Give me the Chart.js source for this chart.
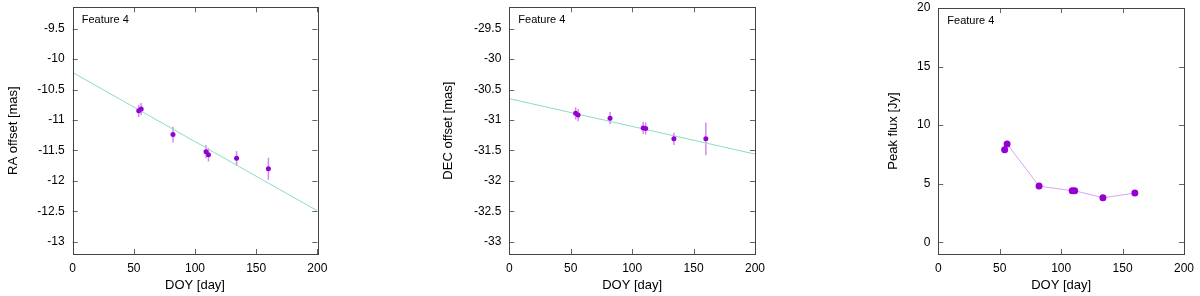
<!DOCTYPE html>
<html>
<head>
<meta charset="utf-8">
<script src="https://cdn.jsdelivr.net/npm/chart.js@4.4.1/dist/chart.umd.min.js"></script>
<style>
body { margin: 0; background: #fff; width: 1200px; height: 296px; position: relative; overflow: hidden; }
canvas { position: absolute; top: 0; }
</style>
</head>
<body>
<canvas id="c1" width="330" height="296" style="left:0px"></canvas>
<canvas id="c2" width="335" height="296" style="left:430px"></canvas>
<canvas id="c3" width="340" height="296" style="left:860px"></canvas>
<script>
// observation days
var doy = [54, 56, 82, 109, 111, 134, 160];

// RA offsets and errors
var ra = [-10.85, -10.82, -11.24, -11.52, -11.57, -11.63, -11.80];
var raErr = [0.1, 0.1, 0.13, 0.11, 0.11, 0.12, 0.18];

// DEC offsets and errors
var dec = [-30.89, -30.92, -30.97, -31.13, -31.14, -31.31, -31.31];
var decErr = [0.1, 0.1, 0.1, 0.1, 0.1, 0.1, 0.27];

// peak flux
var flux = [7.9, 8.4, 4.8, 4.4, 4.4, 3.8, 4.2];

// linear fits (ends)
var fitX = [0, 200];
var raFit = [-10.22, -12.49];
var decFit = [-30.65, -31.56];

var label = "Feature 4";
var fontFam = "'Liberation Sans', Arial, Helvetica, sans-serif";
var violet = '#9400d3';

function pts(xs, ys) {
    return xs.map(function (x, i) { return { x: x, y: ys[i] }; });
}

// frame with inward ticks on all 4 sides + the label in the corner
var framePlugin = {
    id: 'frame',
    afterDraw: function (chart) {
        var ctx = chart.ctx, a = chart.chartArea;
        var xs = chart.scales.x, ys = chart.scales.y;
        ctx.save();
        ctx.strokeStyle = '#666';
        ctx.lineWidth = 1;
        ctx.beginPath();
        xs.ticks.forEach(function (t) {
            var px = Math.round(xs.getPixelForValue(t.value)) + 0.5;
            ctx.moveTo(px, a.bottom); ctx.lineTo(px, a.bottom - 5);
            ctx.moveTo(px, a.top); ctx.lineTo(px, a.top + 5);
        });
        ys.ticks.forEach(function (t) {
            var py = Math.round(ys.getPixelForValue(t.value)) + 0.5;
            ctx.moveTo(a.left, py); ctx.lineTo(a.left + 5, py);
            ctx.moveTo(a.right, py); ctx.lineTo(a.right - 5, py);
        });
        ctx.stroke();
        ctx.strokeStyle = '#444';
        ctx.strokeRect(Math.round(a.left) + 0.5, Math.round(a.top) + 0.5,
            Math.round(a.right - a.left), Math.round(a.bottom - a.top));
        ctx.fillStyle = '#000';
        ctx.font = '11px ' + fontFam;
        ctx.textBaseline = 'middle';
        ctx.fillText(label, a.left + 9, a.top + 13);
        ctx.restore();
    }
};

function errPlugin(ys, errs) {
    return {
        id: 'errbars',
        beforeDatasetsDraw: function (chart) {
            if (!errs) return;
            var ctx = chart.ctx, xs = chart.scales.x, yS = chart.scales.y;
            ctx.save();
            ctx.strokeStyle = 'rgba(190, 90, 235, 0.7)';
            ctx.lineWidth = 1.5;
            ctx.beginPath();
            for (var i = 0; i < doy.length; i++) {
                var px = xs.getPixelForValue(doy[i]);
                ctx.moveTo(px, yS.getPixelForValue(ys[i] - errs[i]));
                ctx.lineTo(px, yS.getPixelForValue(ys[i] + errs[i]));
            }
            ctx.stroke();
            ctx.restore();
        }
    };
}

function tickFmt(v) {
    return String(+v.toFixed(2));
}

function makePanel(id, o) {
    var datasets = [{
        data: pts(doy, o.ys),
        backgroundColor: violet,
        borderColor: o.lineColor || violet,
        borderWidth: 1,
        showLine: !!o.lineColor,
        pointRadius: o.r,
        pointBorderWidth: 0
    }];
    if (o.fit) {
        datasets.push({
            data: pts(fitX, o.fit),
            showLine: true,
            borderColor: '#8ddcbf',
            borderWidth: 1,
            pointRadius: 0
        });
    }
    new Chart(document.getElementById(id), {
        type: 'scatter',
        data: { datasets: datasets },
        options: {
            responsive: false,
            animation: false,
            events: [],
            layout: { padding: { left: 0, right: o.padRight, top: o.padTop, bottom: 0 } },
            plugins: { legend: { display: false }, tooltip: { enabled: false } },
            scales: {
                x: {
                    min: 0, max: 200,
                    grid: { display: false, drawTicks: false },
                    border: { display: false },
                    ticks: { stepSize: 50, padding: 7, color: '#000', font: { family: fontFam, size: 12 }, maxRotation: 0 },
                    title: { display: true, text: 'DOY [day]', color: '#000', font: { family: fontFam, size: 13 }, padding: { top: 0, bottom: 3 } },
                    afterFit: function (s) { s.height = 42; s.paddingLeft = 0; s.paddingRight = 0; }
                },
                y: {
                    min: o.yMin, max: o.yMax,
                    grid: { display: false, drawTicks: false },
                    border: { display: false },
                    ticks: { stepSize: o.step, includeBounds: false, padding: 8, color: '#000', font: { family: fontFam, size: 12 }, callback: tickFmt },
                    title: { display: true, text: o.yTitle, color: '#000', font: { family: fontFam, size: 13 }, padding: { top: o.titlePad, bottom: 0 } },
                    afterFit: function (s) { s.width = o.yWidth; s.paddingTop = 0; s.paddingBottom = 0; }
                }
            }
        },
        plugins: [errPlugin(o.ys, o.errs), framePlugin]
    });
}

makePanel('c1', { ys: ra, errs: raErr, fit: raFit, yMin: -13.2, yMax: -9.15, step: 0.5,
    yTitle: 'RA offset [mas]', yWidth: 72.7, titlePad: 5.5, padRight: 12.7, padTop: 7.3, r: 2.5 });
makePanel('c2', { ys: dec, errs: decErr, fit: decFit, yMin: -33.2, yMax: -29.15, step: 0.5,
    yTitle: 'DEC offset [mas]', yWidth: 79.3, titlePad: 10.5, padRight: 10, padTop: 7.3, r: 2.5 });
makePanel('c3', { ys: flux, errs: null, fit: null, lineColor: '#d9a3f2', yMin: -1, yMax: 20, step: 5,
    yTitle: 'Peak flux [Jy]', yWidth: 78.3, titlePad: 25.5, padRight: 16, padTop: 8, r: 3.5 });
</script>
</body>
</html>
